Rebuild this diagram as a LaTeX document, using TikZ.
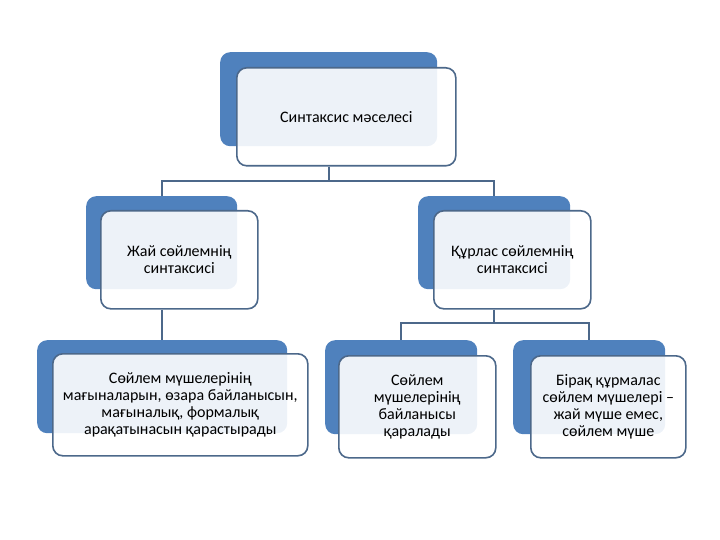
\documentclass[tikz,border=0pt]{standalone}
\usepackage{fontspec}
\setmainfont{Carlito}
\definecolor{backblue}{RGB}{79,129,189}
\definecolor{edge}{RGB}{76,104,138}
\begin{document}
\begin{tikzpicture}[x=1pt,y=-1pt,
  backbox/.style={draw=none, fill=backblue, rounded corners=10pt, anchor=north west, inner sep=0pt},
  frontbox/.style={draw=edge, line width=1.6pt, fill=white, fill opacity=0.9, text opacity=1,
    rounded corners=10pt, anchor=north west, align=center, inner sep=0pt,
    font=\fontsize{16}{16.8}\selectfont},
  conn/.style={draw=edge, line width=1.8pt}]
\useasboundingbox (0,0) rectangle (720,540);
% level 0
\node[backbox, minimum width=217pt, minimum height=94pt] (b0) at (220,52) {};
\node[frontbox, minimum width=219pt, minimum height=98pt] (f0) at (236,67) {Синтаксис мәселесі};
% level 1
\node[backbox, minimum width=151pt, minimum height=93pt] (b1) at (86,196) {};
\node[frontbox, minimum width=157pt, minimum height=98pt] (f1) at (100,210) {Жай сөйлемнің\\синтаксисі};
\node[backbox, minimum width=152pt, minimum height=93pt] (b2) at (418,196) {};
\node[frontbox, minimum width=157pt, minimum height=98pt] (f2) at (433,210) {Құрлас сөйлемнің\\синтаксисі};
% level 2
\node[backbox, minimum width=250pt, minimum height=93pt] (b3) at (37,340) {};
\node[frontbox, minimum width=255pt, minimum height=102pt] (f3) at (52,353) {Сөйлем мүшелерінің\\мағыналарын, өзара байланысын,\\мағыналық, формалық\\арақатынасын қарастырады};
\node[backbox, minimum width=152pt, minimum height=94pt] (b4) at (325,340) {};
\node[frontbox, minimum width=157pt, minimum height=102pt] (f4) at (338,355) {Сөйлем\\мүшелерінің\\байланысы\\қаралады};
\node[backbox, minimum width=152pt, minimum height=94pt] (b5) at (513,340) {};
\node[frontbox, minimum width=155pt, minimum height=102pt] (f5) at (530,355) {Бірақ құрмалас\\сөйлем мүшелері –\\жай мүше емес,\\сөйлем мүше};
% connectors
\coordinate (h1) at (0,181);
\coordinate (h2) at (0,323);
\draw[conn] (b0.south |- f0.south) -- (b0.south |- h1) -| (b1.north);
\draw[conn] (b0.south |- h1) -| (b2.north);
\draw[conn] (b3.north |- f1.south) -- (b3.north);
\draw[conn] (b2.south |- f2.south) -- (b2.south |- h2) -| (b4.north);
\draw[conn] (b2.south |- h2) -| (b5.north);
\end{tikzpicture}
\end{document}
